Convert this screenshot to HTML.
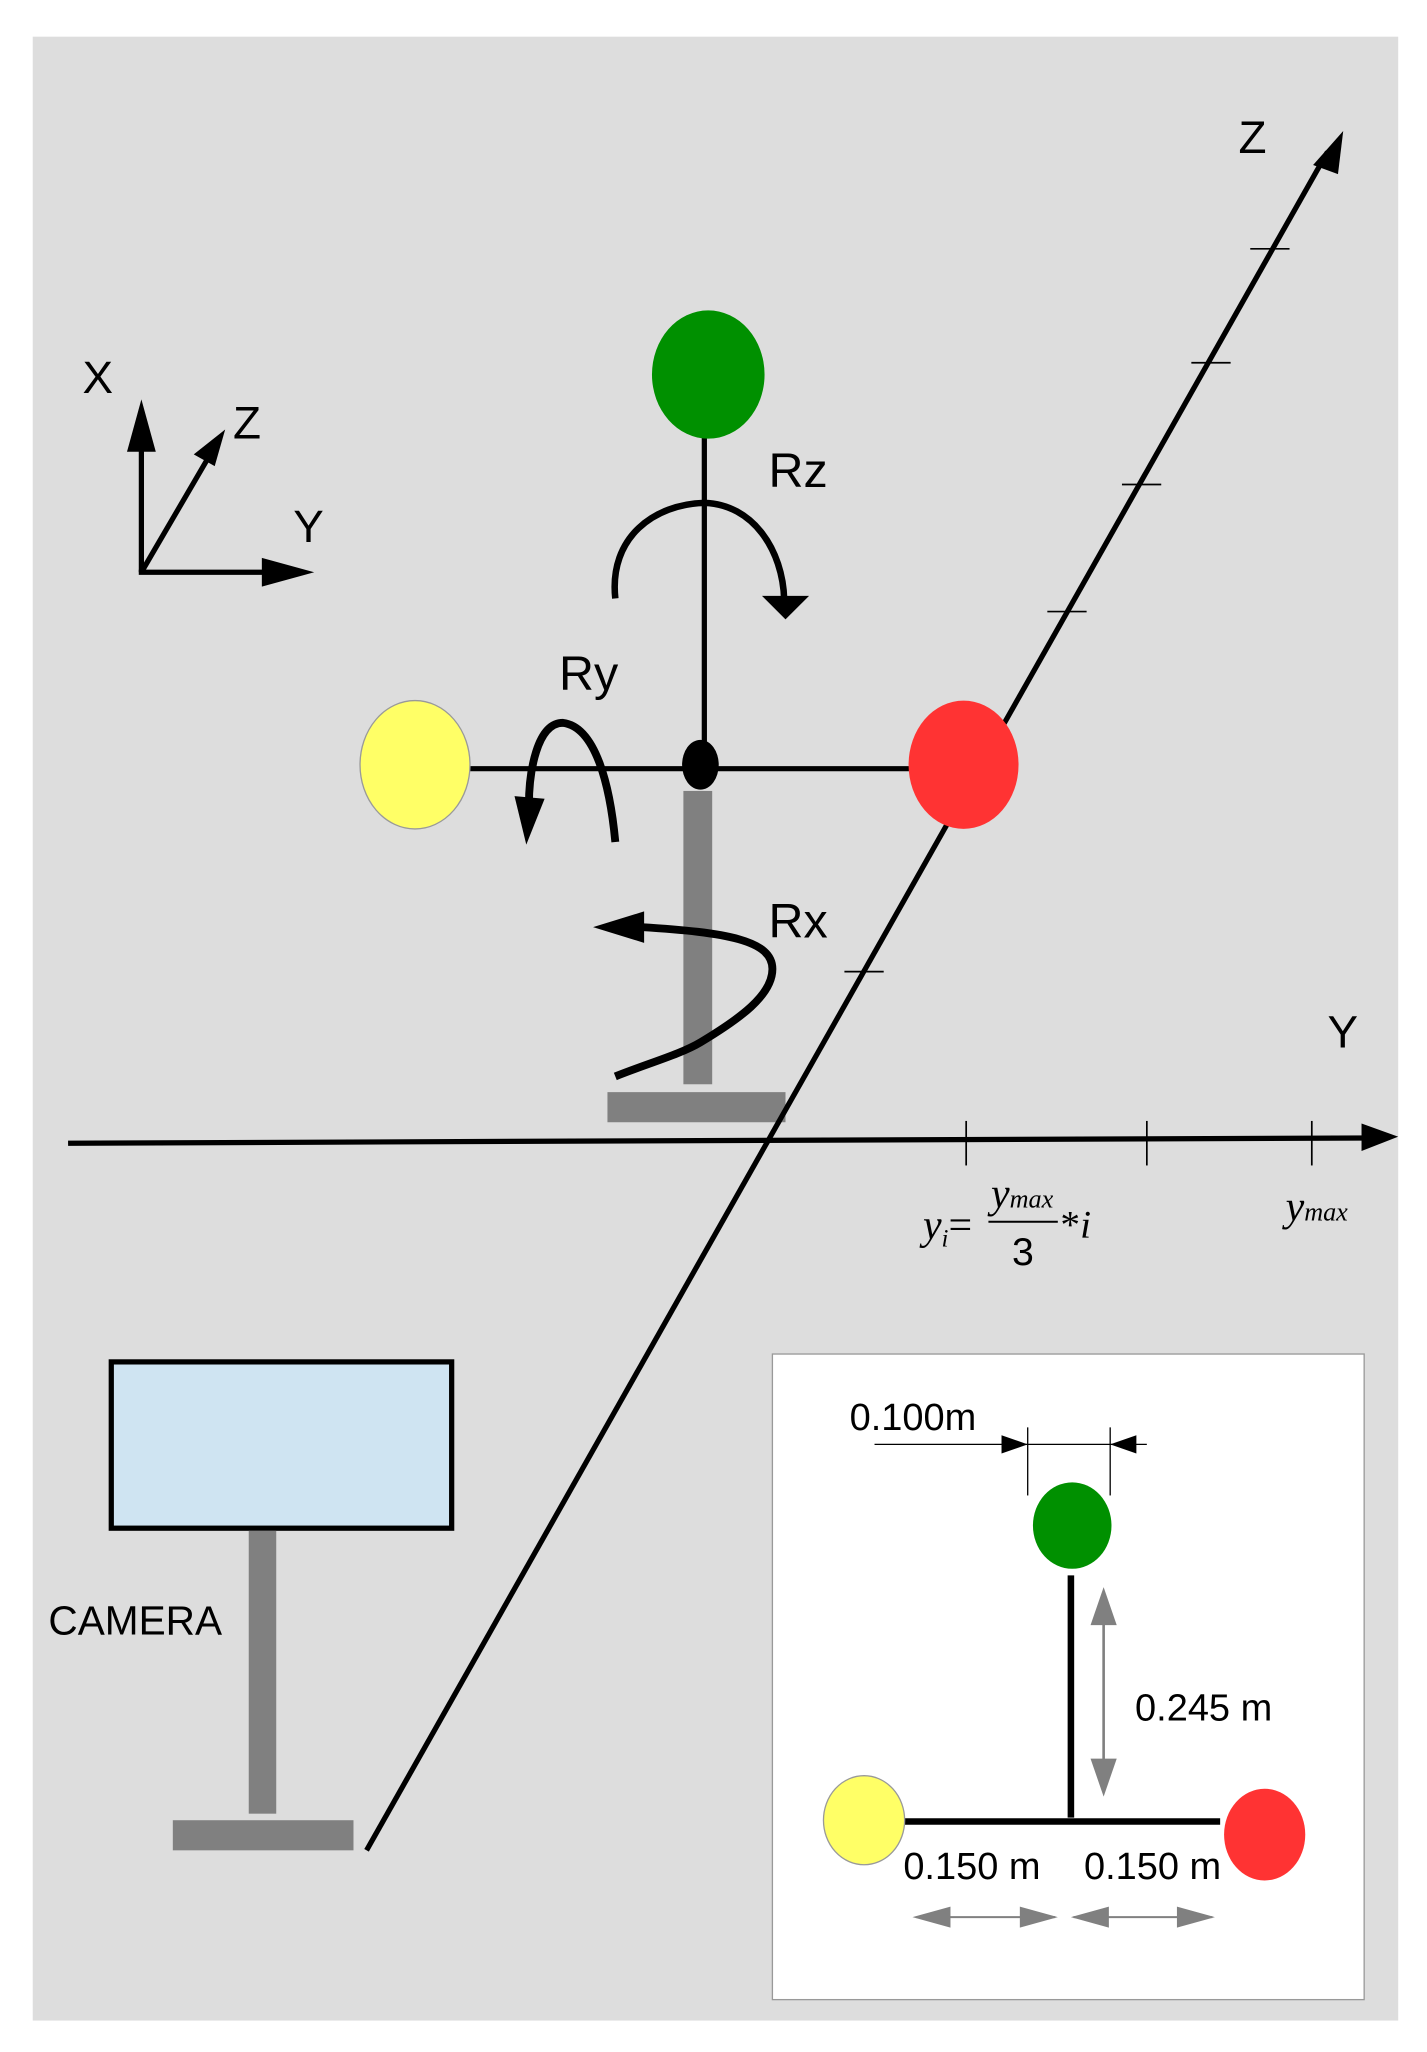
<!DOCTYPE html>
<html><head><meta charset="utf-8"><style>
html,body{margin:0;padding:0;background:#fff;}
svg{display:block;}
text{font-family:"Liberation Sans",sans-serif;}
.m{font-family:"Liberation Serif",serif;font-style:italic;}
</style></head><body>
<svg width="1427" height="2052" viewBox="0 0 1090 1567" preserveAspectRatio="none" xmlns="http://www.w3.org/2000/svg">
<rect x="25" y="28" width="1043" height="1515" fill="#dddddd"/>
<!-- post -->
<rect x="522" y="604" width="22" height="224" fill="#808080"/>
<rect x="464" y="834" width="136" height="23" fill="#808080"/>
<!-- Z axis -->
<line x1="280" y1="1413" x2="1014" y2="116" stroke="#000" stroke-width="4"/>
<polygon points="1026,100 1003,126 1022,133" fill="#000"/>
<g stroke="#000" stroke-width="1.3">
<line x1="955" y1="190" x2="985" y2="190"/>
<line x1="910" y1="277" x2="940" y2="277"/>
<line x1="857" y1="370" x2="887" y2="370"/>
<line x1="800" y1="467" x2="830" y2="467"/>
<line x1="645" y1="742" x2="675" y2="742"/>
<line x1="738" y1="856" x2="738" y2="890"/>
<line x1="876" y1="856" x2="876" y2="890"/>
<line x1="1002" y1="856" x2="1002" y2="890"/>
</g>
<text x="946" y="117" font-size="35">Z</text>
<!-- Y axis -->
<line x1="52" y1="873" x2="1045" y2="869" stroke="#000" stroke-width="4"/>
<polygon points="1068,868 1040,858 1040,879" fill="#000"/>
<text x="1014" y="800" font-size="35">Y</text>
<text class="m" x="705" y="946" font-size="32">y<tspan font-size="19" dy="6">i</tspan><tspan dy="-6" font-style="normal">=</tspan></text>
<line x1="755" y1="933" x2="808" y2="933" stroke="#000" stroke-width="1.5"/>
<text class="m" x="757" y="922" font-size="32">y<tspan font-size="20">max</tspan></text>
<text x="773" y="966" font-size="30" font-family="Liberation Serif,serif">3</text>
<text class="m" x="810" y="945" font-size="30"><tspan font-style="normal">*</tspan>i</text>
<text class="m" x="982" y="932" font-size="32">y<tspan font-size="20">max</tspan></text>
<!-- T -->
<line x1="538" y1="330" x2="538" y2="584" stroke="#000" stroke-width="4"/>
<line x1="355" y1="587" x2="698" y2="587" stroke="#000" stroke-width="4"/>
<ellipse cx="541" cy="286" rx="43" ry="49" fill="#009000"/>
<ellipse cx="317" cy="584" rx="42" ry="49" fill="#ffff66" stroke="#999" stroke-width="1"/>
<ellipse cx="736" cy="584" rx="42" ry="49" fill="#ff3333"/>
<ellipse cx="535" cy="584" rx="14" ry="19" fill="#000"/>
<!-- Rz -->
<path d="M470,457 C465,410 500,385 538,384 C575,385 598,420 599,458" fill="none" stroke="#000" stroke-width="5"/>
<polygon points="582,455 618,455 600,473" fill="#000"/>
<text x="587" y="372" font-size="37">Rz</text>
<!-- Ry -->
<path d="M470,643 C466,600 455,555 430,552 C410,552 404,590 404,615" fill="none" stroke="#000" stroke-width="6"/>
<polygon points="393,608 416,610 402,645" fill="#000"/>
<text x="427" y="527" font-size="37">Ry</text>
<!-- Rx -->
<path d="M470,822 C495,812 520,805 535,796 C565,778 590,760 590,740 C590,718 555,712 490,708" fill="none" stroke="#000" stroke-width="6"/>
<polygon points="453,708 492,696 492,720" fill="#000"/>
<text x="587" y="716" font-size="37">Rx</text>
<!-- small axes -->
<line x1="108" y1="437" x2="108" y2="335" stroke="#000" stroke-width="4"/>
<polygon points="108,305 97,345 119,345" fill="#000"/>
<line x1="106" y1="437" x2="205" y2="437" stroke="#000" stroke-width="4"/>
<polygon points="240,437 200,426 200,448" fill="#000"/>
<line x1="108" y1="437" x2="160" y2="348" stroke="#000" stroke-width="4"/>
<polygon points="172,328 148,347 164,356" fill="#000"/>
<text x="63" y="300" font-size="35">X</text>
<text x="178" y="335" font-size="35">Z</text>
<text x="224" y="414" font-size="35">Y</text>
<!-- camera -->
<rect x="85" y="1040" width="260" height="127" fill="#cfe4f2" stroke="#000" stroke-width="4"/>
<rect x="190" y="1169" width="21" height="216" fill="#808080"/>
<rect x="132" y="1390" width="138" height="23" fill="#808080"/>
<text x="37" y="1248" font-size="31">CAMERA</text>
<!-- inset -->
<rect x="590" y="1034" width="452" height="493" fill="#fff" stroke="#999" stroke-width="1"/>
<text x="649" y="1092" font-size="29">0.100m</text>
<g stroke="#000" stroke-width="1">
<line x1="668" y1="1103" x2="876" y2="1103"/>
<line x1="785" y1="1090" x2="785" y2="1142"/>
<line x1="848" y1="1090" x2="848" y2="1142"/>
</g>
<polygon points="785,1103 765,1096 765,1110" fill="#000"/>
<polygon points="848,1103 868,1096 868,1110" fill="#000"/>
<line x1="818" y1="1203" x2="818" y2="1388" stroke="#000" stroke-width="5"/>
<line x1="687" y1="1391" x2="932" y2="1391" stroke="#000" stroke-width="5"/>
<ellipse cx="819" cy="1165" rx="30" ry="33" fill="#009000"/>
<ellipse cx="660" cy="1390" rx="31" ry="34" fill="#ffff66" stroke="#999" stroke-width="1"/>
<ellipse cx="966" cy="1401" rx="31" ry="35" fill="#ff3333"/>
<line x1="843" y1="1225" x2="843" y2="1360" stroke="#808080" stroke-width="2"/>
<polygon points="843,1212 833,1241 853,1241" fill="#808080"/>
<polygon points="843,1372 833,1343 853,1343" fill="#808080"/>
<text x="867" y="1314" font-size="29">0.245 m</text>
<text x="690" y="1435" font-size="29">0.150 m</text>
<text x="828" y="1435" font-size="29">0.150 m</text>
<line x1="700" y1="1464" x2="806" y2="1464" stroke="#808080" stroke-width="1.5"/>
<line x1="820" y1="1464" x2="926" y2="1464" stroke="#808080" stroke-width="1.5"/>
<polygon points="697,1464 726,1456 726,1472" fill="#808080"/>
<polygon points="808,1464 779,1456 779,1472" fill="#808080"/>
<polygon points="818,1464 847,1456 847,1472" fill="#808080"/>
<polygon points="928,1464 899,1456 899,1472" fill="#808080"/>
</svg>
</body></html>
